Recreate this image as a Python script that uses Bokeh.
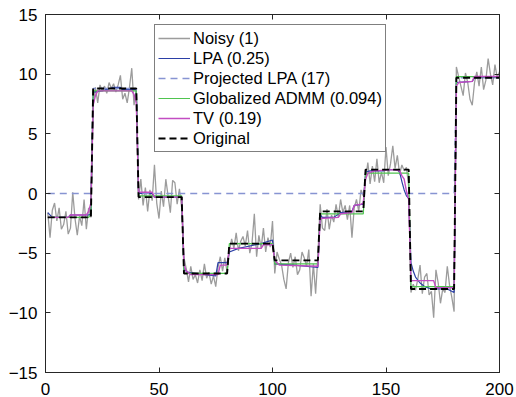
import numpy as np
from bokeh.plotting import figure
from bokeh.models import (LinearAxis, Range1d, Legend, LegendItem,
                          FixedTicker, CustomJSTickFormatter)
from bokeh.embed import file_html
from bokeh.resources import INLINE

# ---- data -------------------------------------------------------------
n_samples = 200
seg_len = 20
x = np.arange(1, n_samples + 1)

# piecewise-constant test signal, one level per 20-sample segment
orig_levels = [-2.0, 8.8, -0.3, -6.7, -4.2, -5.6, -1.5, 2.0, -8.0, 9.7]
# projected LPA keeps only two segments, zero elsewhere
proj_levels = [0.0, 8.8, 0.0, 0.0, 0.0, 0.0, 0.0, 0.0, 0.0, 9.7]

noisy = [
    -1.6, -3.7, -1.4, -0.8, -2.3, -1.2, -3.0, -2.6, -1.5, -3.4,
    -2.9, 0.1, -2.1, -3.5, -1.9, -2.7, -0.5, -3.0, -1.2, -2.0,
    7.4, 8.9, 7.6, 9.1, 8.6, 9.0, 8.4, 9.3, 8.8, 9.2,
    8.5, 9.1, 9.9, 7.9, 8.4, 7.6, 8.9, 10.5, 7.4, 8.7,
    -0.5, 1.2, -1.0, 0.5, -1.5, 0.3, -0.6, 2.4, -0.8, -2.1,
    0.2, -1.1, 1.2, -0.2, -1.6, 1.1, 0.9, -0.9, 0.4, -1.2,
    -5.4, -6.3, -7.4, -6.1, -7.2, -6.8, -7.5, -6.4, -7.3, -5.9,
    -7.1, -6.6, -7.6, -6.9, -7.8, -6.2, -5.3, -6.5, -5.4, -6.6,
    -4.9, -3.8, -4.6, -3.3, -4.8, -4.0, -3.6, -4.4, -3.1, -5.0,
    -4.1, -1.7, -5.3, -3.5, -4.6, -2.9, -4.9, -3.7, -4.5, -2.3,
    -6.7, -4.9, -5.5, -6.0, -7.2, -8.0, -5.8, -5.0, -6.2, -5.3,
    -6.8, -6.4, -4.9, -5.4, -6.1, -4.7, -8.6, -5.9, -8.4, -5.2,
    -0.9, -2.9, -3.1, -1.3, -3.0, -1.8, -2.4, -0.9, -2.0, -0.5,
    -1.6, -1.0, -2.2, -1.0, -3.7, -1.2, -0.5, -1.5, 0.3, -0.2,
    1.2, 2.6, 0.8, 2.3, 1.0, 2.9, 0.9, 1.8, 0.9, 3.9,
    1.5, 2.5, 4.0, 2.1, 3.2, 1.6, 2.4, 1.9, 2.2, 0.6,
    -8.3, -7.6, -8.1, -7.2, -6.0, -8.4, -7.0, -6.7, -8.5, -8.2,
    -10.4, -6.4, -7.5, -9.2, -8.0, -8.3, -6.1, -7.7, -8.7, -9.9,
    10.6, 9.8, 9.0, 8.2, 10.1, 9.3, 7.9, 7.4, 9.3, 10.2,
    9.0, 10.6, 8.7, 9.5, 11.3, 10.0, 9.1, 10.8, 9.7, 10.2,
]

# LPA estimate (polyline vertices)
lpa_x = [1, 3, 10, 11, 19, 20,
         21, 25, 30, 33, 34, 40,
         41, 47, 48, 60,
         61, 63, 70, 75, 76, 80,
         81, 85, 90, 95, 100,
         101, 110, 120,
         121, 122, 127, 130, 135, 136, 140,
         141, 143, 149, 150, 155, 156, 157, 158, 159, 160,
         161, 162, 163, 165, 167, 170, 177, 180,
         181, 188, 189, 200]
lpa_y = [-1.6, -2.0, -2.0, -1.8, -1.8, -1.7,
         8.5, 8.6, 8.9, 8.9, 8.7, 8.7,
         0.0, 0.0, -0.3, -0.3,
         -6.4, -6.6, -6.8, -6.9, -5.8, -5.8,
         -4.9, -4.6, -4.4, -4.2, -3.9,
         -5.9, -6.0, -6.2,
         -1.8, -2.0, -2.0, -1.6, -1.5, -1.0, -0.9,
         1.8, 1.9, 1.9, 2.0, 2.0, 1.8, 1.0, 0.3, -0.2, -0.4,
         -5.8, -6.5, -7.0, -7.5, -7.8, -8.0, -8.0, -8.3,
         9.3, 9.4, 9.7, 9.7]

# Globalized ADMM estimate (polyline vertices)
admm_x = [1, 19, 20, 21, 40, 41, 60, 61, 80, 81, 100, 101, 120,
          121, 140, 141, 160, 161, 180, 181, 200]
admm_y = [-2.0, -2.0, -1.7, 8.6, 8.6, -0.2, -0.2, -6.7, -6.7, -4.2, -4.2,
          -5.9, -5.9, -1.7, -1.7, 1.7, 1.7, -7.8, -7.8, 9.8, 9.8]

# TV estimate (polyline vertices)
tv_x = [1, 10, 11, 18, 19, 20,
        21, 22, 23, 38, 39, 40,
        41, 47, 48, 60,
        61, 62, 64, 76, 77, 80,
        81, 95, 96, 100,
        101, 103, 120,
        121, 129, 130, 135, 136, 139, 140,
        141, 142, 145, 153, 156, 157, 158, 159, 160,
        161, 171, 172, 180,
        181, 182, 188, 189, 200]
tv_y = [-2.0, -2.0, -1.8, -1.8, -1.5, -0.8,
        7.4, 8.2, 8.6, 8.6, 8.3, 7.6,
        0.1, 0.1, -0.3, -0.3,
        -6.0, -6.5, -6.8, -6.8, -6.0, -6.0,
        -4.6, -4.6, -4.3, -4.3,
        -5.6, -6.0, -6.1,
        -2.1, -2.0, -1.7, -1.6, -1.0, -0.9, -0.8,
        1.2, 1.7, 1.9, 2.0, 1.9, 1.5, 1.2, 0.2, -0.5,
        -7.3, -7.3, -7.9, -7.9,
        9.0, 9.3, 9.4, 9.8, 9.8]

labels = ["Noisy (1)", "LPA (0.25)", "Projected LPA (17)",
          "Globalized ADMM (0.094)", "TV (0.19)", "Original"]
x_ticks = [0, 50, 100, 150, 200]
y_ticks = [-15, -10, -5, 0, 5, 10, 15]

orig = np.repeat(orig_levels, seg_len)
proj = np.repeat(proj_levels, seg_len)

# ---- figure -----------------------------------------------------------
FONT = "Liberation Sans"
AX = "#262626"

p = figure(width=516, height=397,
           x_range=Range1d(0, 200), y_range=Range1d(-15, 15),
           output_backend="svg", toolbar_location=None,
           min_border_left=45, min_border_right=17,
           min_border_top=14, min_border_bottom=25)
p.xgrid.grid_line_color = None
p.ygrid.grid_line_color = None
p.outline_line_color = AX
p.background_fill_color = "white"
p.border_fill_color = "white"


def style_axis(ax, ticks):
    ax.ticker = FixedTicker(ticks=ticks)
    ax.axis_line_color = AX
    ax.major_tick_line_color = AX
    ax.major_tick_in = 5
    ax.major_tick_out = 0
    ax.minor_tick_line_color = None
    ax.major_label_text_font = FONT
    ax.major_label_text_font_size = "17px"
    ax.major_label_text_color = "#000000"


style_axis(p.xaxis[0], x_ticks)
style_axis(p.yaxis[0], y_ticks)
p.xaxis[0].major_label_standoff = 10
p.yaxis[0].major_label_standoff = 8

# mirrored tick marks on the top and right edges of the box
blank = CustomJSTickFormatter(code="return ''")
top = LinearAxis(formatter=blank)
style_axis(top, x_ticks)
top.major_label_text_font_size = "1px"
top.major_label_standoff = 0
p.add_layout(top, "above")
right = LinearAxis(formatter=blank)
style_axis(right, y_ticks)
right.major_label_text_font_size = "1px"
right.major_label_standoff = 0
p.add_layout(right, "right")

r_noisy = p.line(x, noisy, color="#9c9c9c", line_width=1.3)
r_lpa = p.line(lpa_x, lpa_y, color="#2b3fa6", line_width=1.2)
r_proj = p.line(x, proj, color="#8794d2", line_width=1.3, line_dash="7 5")
r_admm = p.line(admm_x, admm_y, color="#4fc44f", line_width=1.2)
r_tv = p.line(tv_x, tv_y, color="#c24cc2", line_width=1.4)
r_orig = p.line(x, orig, color="#000000", line_width=1.9, line_dash="7 4")

renderers = [r_noisy, r_lpa, r_proj, r_admm, r_tv, r_orig]
legend = Legend(items=[LegendItem(label=l, renderers=[r])
                       for l, r in zip(labels, renderers)],
                location=(109, 220))
legend.label_text_font = FONT
legend.label_text_font_size = "16.5px"
legend.label_text_color = "#000000"
legend.glyph_width = 32
legend.glyph_height = 20
legend.label_height = 20
legend.label_standoff = 3
legend.spacing = 0
legend.padding = 3
legend.margin = 0
legend.border_line_color = "#000000"
legend.border_line_width = 1
legend.background_fill_color = "white"
legend.background_fill_alpha = 1.0
p.add_layout(legend)

open("out.html", "w").write(file_html(p, INLINE))
